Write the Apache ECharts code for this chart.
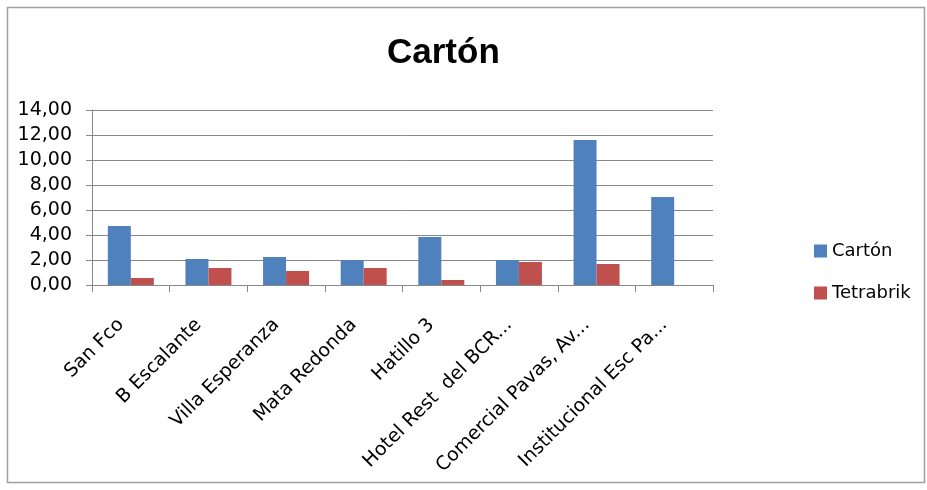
<!DOCTYPE html>
<html>
<head>
<meta charset="utf-8">
<script src="https://cdn.jsdelivr.net/npm/echarts@6/dist/echarts.min.js"></script>
<style>
  html, body { margin: 0; padding: 0; background: #fff; }
  #chart { width: 927px; height: 490px; }
</style>
</head>
<body>
<div id="chart"></div>
<script>
// Recolección por punto: cartón y tetrabrik
const categories = [
  'San Fco',
  'B Escalante',
  'Villa Esperanza',
  'Mata Redonda',
  'Hatillo 3',
  'Hotel Rest  del BCR...',
  'Comercial Pavas, Av...',
  'Institucional Esc Pa...'
];
const carton = [4.72, 2.08, 2.24, 2.00, 3.84, 2.00, 11.60, 7.04];
const tetrabrik = [0.56, 1.36, 1.12, 1.36, 0.40, 1.84, 1.68, null];
const yTicks = { min: 0, max: 14, interval: 2 };

const SANS = '"DejaVu Sans", "Liberation Sans", sans-serif';
const TITLE_FONT = '"Liberation Sans", "DejaVu Sans", sans-serif';
const chart = echarts.init(document.getElementById('chart'), null, { renderer: 'canvas' });

chart.setOption({
  backgroundColor: '#ffffff',
  animation: false,
  title: {
    text: 'Cartón',
    left: 382,
    top: 31,
    textStyle: { fontFamily: TITLE_FONT, fontSize: 35, fontWeight: 'bold', color: '#000' }
  },
  legend: {
    orient: 'vertical',
    left: 809,
    top: 237,
    itemWidth: 13,
    itemHeight: 13,
    itemGap: 24,
    icon: 'rect',
    textStyle: { fontFamily: SANS, fontSize: 18, color: '#000' },
    data: ['Cartón', 'Tetrabrik']
  },
  graphic: [{
    type: 'rect',
    shape: { x: 7.5, y: 7.5, width: 917, height: 475 },
    style: { fill: 'none', stroke: '#a0a0a0', lineWidth: 1.5 },
    silent: true,
    z: -1
  }],
  grid: { left: 92, right: 214, top: 110, bottom: 205, outerBoundsMode: 'none', containLabel: false },
  xAxis: {
    type: 'category',
    data: categories,
    axisLine: { lineStyle: { color: '#888', width: 1 } },
    axisTick: { show: true, length: 7, lineStyle: { color: '#888' } },
    axisLabel: {
      rotate: 45,
      interval: 0,
      margin: 27,
      fontFamily: SANS,
      fontSize: 19,
      color: '#000',
      padding: [0, 14, 0, 0]
    }
  },
  yAxis: {
    type: 'value',
    min: yTicks.min,
    max: yTicks.max,
    interval: yTicks.interval,
    axisLine: { show: true, lineStyle: { color: '#888', width: 1 } },
    axisTick: { show: true, length: 6, lineStyle: { color: '#888' } },
    splitLine: { lineStyle: { color: '#888', width: 1 } },
    axisLabel: {
      margin: 20,
      fontFamily: SANS,
      fontSize: 19,
      color: '#000',
      formatter: v => v.toFixed(2).replace('.', ',')
    }
  },
  series: [
    {
      name: 'Cartón',
      type: 'bar',
      data: carton,
      barWidth: 23,
      barGap: '0%',
      itemStyle: { color: '#4F81BD' }
    },
    {
      name: 'Tetrabrik',
      type: 'bar',
      data: tetrabrik,
      barWidth: 23,
      barGap: '0%',
      itemStyle: { color: '#C0504D' }
    }
  ]
});
</script>
</body>
</html>
